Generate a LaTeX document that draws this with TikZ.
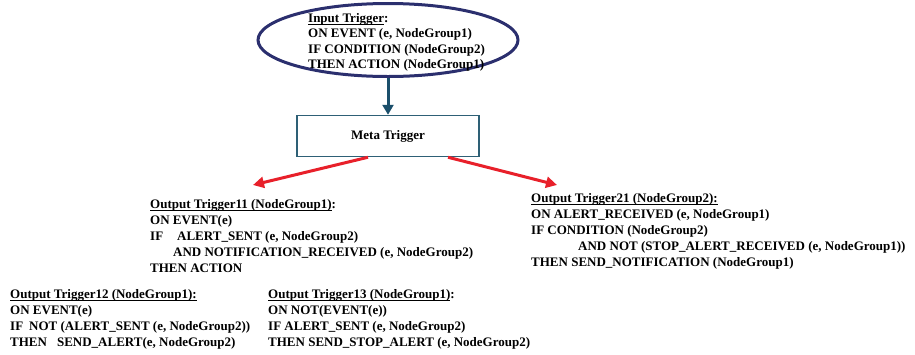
\documentclass[tikz,border=0pt]{standalone}
\usepackage{fontspec}
\setmainfont{Liberation Serif}
\usetikzlibrary{shapes.geometric,arrows.meta,positioning}
\definecolor{ovalblue}{HTML}{2B2F6E}
\definecolor{metateal}{HTML}{2E6076}
\definecolor{downteal}{HTML}{1B4F6B}
\definecolor{trigred}{HTML}{E8202A}
% underline a title, rule just below the baseline
\newcommand{\trigul}[1]{\setbox0\hbox{#1}\rlap{\rule[-2pt]{\wd0}{0.7pt}}\box0}
\begin{document}
\begin{tikzpicture}[font=\bfseries\fontsize{13}{16}\selectfont,
  trig/.style={align=left, inner sep=0pt, anchor=north west},
  inputoval/.style={ellipse, draw=ovalblue, line width=3pt, minimum width=260pt, minimum height=73pt, inner sep=0pt},
  metabox/.style={draw=metateal, line width=1.5pt, minimum width=182pt, minimum height=41pt, inner sep=0pt},
  downarrow/.style={draw=downteal, line width=3pt, -{Triangle[length=10pt,width=11pt]}},
  redarrow/.style={draw=trigred, line width=3pt, -{Triangle[length=11pt,width=11pt]}}]
\useasboundingbox (0,0) rectangle (915pt,-354pt);
\node (input) [inputoval] at (388pt,-40pt) {};
\node (inputtext) [trig, font=\bfseries\fontsize{13}{15.4}\selectfont] at (308pt,-13pt)
  {\trigul{Input Trigger}:\\ON EVENT (e, NodeGroup1)\\IF CONDITION (NodeGroup2)\\THEN ACTION (NodeGroup1)};
\node (meta) [metabox, below of=input, node distance=96pt] {Meta Trigger};
\node (out11) [trig] at (150pt,-199pt)
  {\trigul{Output Trigger11 (NodeGroup1)}:\\ON EVENT(e)\\IF\hspace{14pt}ALERT\_SENT (e, NodeGroup2)\\
   \hspace*{23pt}AND NOTIFICATION\_RECEIVED (e, NodeGroup2)\\THEN ACTION};
\node (out21) [trig] at (531pt,-193pt)
  {\trigul{Output Trigger21 (NodeGroup2):}\\ON ALERT\_RECEIVED (e, NodeGroup1)\\IF CONDITION (NodeGroup2)\\
   \hspace*{47pt}AND NOT (STOP\_ALERT\_RECEIVED (e, NodeGroup1))\\THEN SEND\_NOTIFICATION (NodeGroup1)};
\node (out12) [trig] at (10pt,-289pt)
  {\trigul{Output Trigger12 (NodeGroup1):}\\ON EVENT(e)\\IF\hspace{6pt}NOT (ALERT\_SENT (e, NodeGroup2))\\
   THEN\hspace{10pt}SEND\_ALERT(e, NodeGroup2)};
\node (out13) [trig] at (268pt,-289pt)
  {\trigul{Output Trigger13 (NodeGroup1)}:\\ON NOT(EVENT(e))\\IF ALERT\_SENT (e, NodeGroup2)\\
   THEN SEND\_STOP\_ALERT (e, NodeGroup2)};
\draw[downarrow] (input) to (meta);
\draw[redarrow] ([xshift=-20pt]meta.south) to ([xshift=103pt,yshift=14pt]out11.north west);
\draw[redarrow] ([xshift=60pt]meta.south) to ([xshift=26pt,yshift=8pt]out21.north west);
\end{tikzpicture}
\end{document}
